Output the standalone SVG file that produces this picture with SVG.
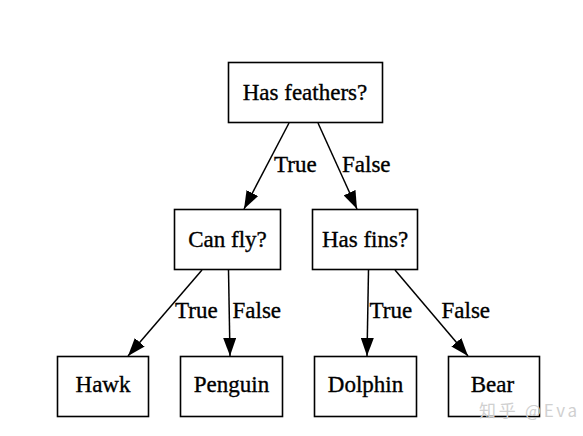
<svg xmlns="http://www.w3.org/2000/svg" width="583" height="436" viewBox="0 0 583 436">
<style>
.box{fill:#fff;stroke:#000;stroke-width:1.6}
.t{font-family:"Liberation Serif","Times New Roman",serif;font-size:23px;fill:#000;text-anchor:middle;stroke:#000;stroke-width:0.35}
.lbl{font-family:"Liberation Serif","Times New Roman",serif;font-size:23px;fill:#000;stroke:#000;stroke-width:0.35}
.e{fill:none;stroke:#000;stroke-width:1.5}
.wm{font-family:"Noto Sans CJK SC","Noto Sans",sans-serif;font-size:17px;fill:#d0d0d0}
</style>
<defs>
<marker id="arr" markerUnits="userSpaceOnUse" markerWidth="18" markerHeight="13" refX="18" refY="6.5" orient="auto">
<path d="M0,0 L18,6.5 L0,13 z" fill="#000"/>
</marker>
</defs>
<rect width="583" height="436" fill="#fff"/>
<g id="connectors">
<path class="e" d="M289,123 L244,209" marker-end="url(#arr)"/>
<path class="e" d="M318,123 L357,209" marker-end="url(#arr)"/>
<path class="e" d="M202,270 L128,356" marker-end="url(#arr)"/>
<path class="e" d="M228.5,270 L230,356" marker-end="url(#arr)"/>
<path class="e" d="M368.5,270 L367,356" marker-end="url(#arr)"/>
<path class="e" d="M395,270 L468,356" marker-end="url(#arr)"/>
<text class="lbl" x="274" y="172">True</text>
<text class="lbl" x="342" y="172">False</text>
<text class="lbl" x="175" y="318">True</text>
<text class="lbl" x="232.5" y="318">False</text>
<text class="lbl" x="369.5" y="318">True</text>
<text class="lbl" x="441.5" y="318">False</text>
</g>
<g id="root">
<rect class="box" x="228.5" y="62.5" width="154" height="60"/>
<text class="t" x="305" y="100">Has feathers?</text>
</g>
<g id="canfly">
<rect class="box" x="174.5" y="209.5" width="106" height="60"/>
<text class="t" x="227.5" y="246.5">Can fly?</text>
</g>
<g id="hasfins">
<rect class="box" x="312.5" y="209.5" width="105" height="60"/>
<text class="t" x="365" y="246.5">Has fins?</text>
</g>
<g id="hawk">
<rect class="box" x="57.5" y="356.5" width="91" height="60"/>
<text class="t" x="103" y="392">Hawk</text>
</g>
<g id="penguin">
<rect class="box" x="180.5" y="356.5" width="102" height="60"/>
<text class="t" x="231.5" y="392">Penguin</text>
</g>
<g id="dolphin">
<rect class="box" x="314.5" y="356.5" width="102" height="60"/>
<text class="t" x="365.5" y="392">Dolphin</text>
</g>
<g id="bear">
<rect class="box" x="448.5" y="356.5" width="91" height="60"/>
<text class="t" x="492.5" y="392">Bear</text>
</g>
<text class="wm" x="479" y="417" textLength="98" lengthAdjust="spacing">知乎 @Eva</text>
</svg>
